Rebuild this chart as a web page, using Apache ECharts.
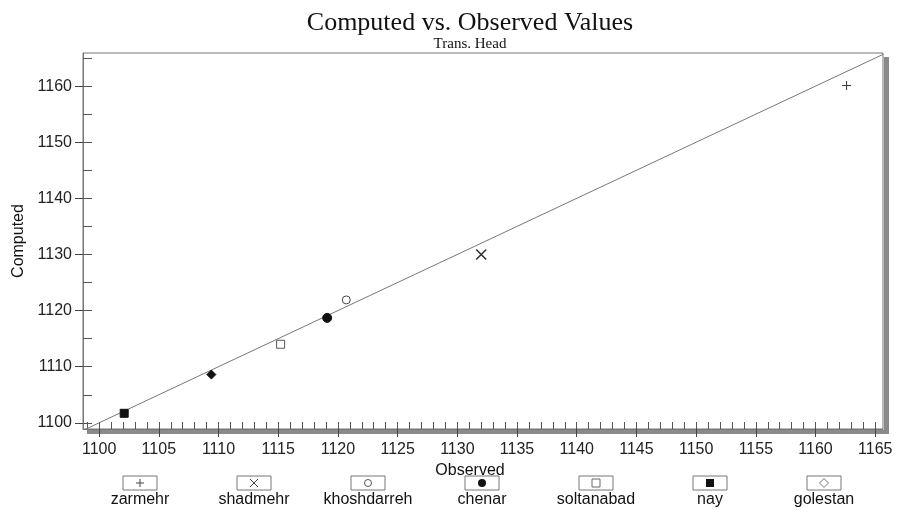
<!DOCTYPE html>
<html>
<head>
<meta charset="utf-8">
<script src="https://cdn.jsdelivr.net/npm/echarts@6/dist/echarts.min.js"></script>
<style>html,body{margin:0;padding:0;background:#fff;}#c{width:898px;height:510px;}</style>
</head>
<body>
<div id="c"></div>
<script>
// ---- data ----
var wellNames = ['zarmehr', 'shadmehr', 'khoshdarreh', 'chenar', 'soltanabad', 'nay', 'golestan'];
var observed = [1162.6, 1132.0, 1120.7, 1119.1, 1115.2, 1102.1, 1109.4];
var computed = [1160.1, 1130.0, 1121.9, 1118.7, 1114.0, 1101.7, 1108.6];
var xTickLabels = [1100, 1105, 1110, 1115, 1120, 1125, 1130, 1135, 1140, 1145, 1150, 1155, 1160, 1165];
var yTickLabels = [1100, 1110, 1120, 1130, 1140, 1150, 1160];
var xMinorTicks = [];
for (var v = 1099; v <= 1165; v++) xMinorTicks.push(v);
var yMinorTicks = [1100, 1105, 1110, 1115, 1120, 1125, 1130, 1135, 1140, 1145, 1150, 1155, 1160, 1165];
var xRange = [1098.65, 1165.65];
var yRange = [1098.9, 1165.9];
var oneToOne = [[1098.65, 1098.65], [1165.65, 1165.65]];

// ---- styles ----
var symbols = [
  'path://M5,0L5,10M0,5L10,5',
  'path://M0,0L10,10M10,0L0,10',
  'circle', 'circle', 'rect', 'rect', 'diamond'
];
var sizes = [9, 10, 8, 9, 8, 8, 9];
var fills = ['transparent', 'transparent', '#fff', '#111', '#fff', '#111', '#111'];
var borders = ['#333', '#333', '#444', '#111', '#555', '#111', '#111'];
var bw = [1, 1.6, 1, 1, 1, 1, 1];

var series = [{
  type: 'line', data: oneToOne, symbol: 'none', silent: true,
  lineStyle: {color: '#777', width: 1}, z: 1, xAxisIndex: 0, yAxisIndex: 0
}];
wellNames.forEach(function (n, i) {
  series.push({
    type: 'scatter', name: n, xAxisIndex: 0, yAxisIndex: 0,
    data: [[observed[i], computed[i]]],
    symbol: symbols[i], symbolSize: sizes[i],
    itemStyle: {color: fills[i], borderColor: borders[i], borderWidth: bw[i], opacity: 1},
    z: 3
  });
});

// ---- frame shadow + legend (boxes) ----
var graphics = [
  {type: 'rect', shape: {x: 884, y: 57, width: 5, height: 377}, style: {fill: '#8a8a8a'}},
  {type: 'rect', shape: {x: 87, y: 430, width: 802, height: 4}, style: {fill: '#8a8a8a'}}
];
var legendCx = [140, 254, 368, 482, 596, 710, 824];
var sans = '"Liberation Sans", Arial, sans-serif';
wellNames.forEach(function (n, i) {
  var cx = legendCx[i], cy = 483;
  graphics.push({type: 'rect', shape: {x: cx - 17, y: 476, width: 34, height: 14},
    style: {fill: '#fff', stroke: '#777', lineWidth: 1}});
  var s = {stroke: '#444', lineWidth: 1, fill: 'none'};
  if (i === 0) {
    graphics.push({type: 'polyline', shape: {points: [[cx, cy - 4], [cx, cy + 4]]}, style: s});
    graphics.push({type: 'polyline', shape: {points: [[cx - 4, cy], [cx + 4, cy]]}, style: s});
  } else if (i === 1) {
    graphics.push({type: 'polyline', shape: {points: [[cx - 4, cy - 4], [cx + 4, cy + 4]]}, style: s});
    graphics.push({type: 'polyline', shape: {points: [[cx + 4, cy - 4], [cx - 4, cy + 4]]}, style: s});
  } else if (i === 2) {
    graphics.push({type: 'circle', shape: {cx: cx, cy: cy, r: 3.5}, style: {stroke: '#555', fill: '#fff', lineWidth: 1}});
  } else if (i === 3) {
    graphics.push({type: 'circle', shape: {cx: cx, cy: cy, r: 4}, style: {fill: '#111'}});
  } else if (i === 4) {
    graphics.push({type: 'rect', shape: {x: cx - 4, y: cy - 4, width: 8, height: 8}, style: {stroke: '#666', fill: '#fff', lineWidth: 1}});
  } else if (i === 5) {
    graphics.push({type: 'rect', shape: {x: cx - 4, y: cy - 4, width: 8, height: 8}, style: {fill: '#111'}});
  } else {
    graphics.push({type: 'polygon', shape: {points: [[cx, cy - 4.5], [cx + 4.5, cy], [cx, cy + 4.5], [cx - 4.5, cy]]}, style: {stroke: '#777', fill: '#fff', lineWidth: 1}});
  }
  graphics.push({type: 'text', x: cx, y: 500, style: {text: n, font: '16px ' + sans,
    fill: '#111', align: 'center', verticalAlign: 'middle'}});
});

var plain = function (v) { return String(Math.round(v)); };
var labelStyle = {color: '#222', fontSize: 16, fontFamily: sans, formatter: plain};

var chart = echarts.init(document.getElementById('c'), null, {renderer: 'canvas'});
chart.setOption({
  animation: false,
  backgroundColor: '#fff',
  title: {
    text: 'Computed vs. Observed Values', subtext: 'Trans. Head',
    left: 465, top: 5, textAlign: 'center', itemGap: 1,
    textStyle: {fontFamily: '"Liberation Serif", "Times New Roman", serif', fontWeight: 'normal', fontSize: 26, color: '#111'},
    subtextStyle: {fontFamily: '"Liberation Serif", "Times New Roman", serif', fontSize: 15, color: '#111'}
  },
  grid: {
    left: 83, right: 15, top: 53, bottom: 81, show: true,
    backgroundColor: '#fff', borderColor: '#777', borderWidth: 1
  },
  xAxis: [{
    type: 'value', min: xRange[0], max: xRange[1], position: 'bottom',
    name: 'Observed', nameLocation: 'middle', nameGap: 26,
    nameTextStyle: {color: '#111', fontSize: 16, fontFamily: sans, padding: [0, 26, 0, 0]},
    axisLine: {show: true, lineStyle: {color: '#777', width: 1}},
    axisTick: {show: true, inside: false, length: 8, customValues: xTickLabels, lineStyle: {color: '#444'}},
    axisLabel: Object.assign({customValues: xTickLabels, margin: 13}, labelStyle),
    splitLine: {show: false}
  }, {
    type: 'value', min: xRange[0], max: xRange[1], position: 'bottom', gridIndex: 0,
    axisLine: {show: false},
    axisTick: {show: true, inside: true, length: 7, customValues: xMinorTicks, lineStyle: {color: '#555'}},
    axisLabel: {show: false}, splitLine: {show: false}
  }],
  yAxis: [{
    type: 'value', min: yRange[0], max: yRange[1], position: 'left',
    name: 'Computed', nameLocation: 'middle', nameGap: 56,
    nameTextStyle: {color: '#111', fontSize: 16, fontFamily: sans},
    axisLine: {show: true, lineStyle: {color: '#777', width: 1}},
    axisTick: {show: true, inside: false, length: 8, customValues: yTickLabels, lineStyle: {color: '#444'}},
    axisLabel: Object.assign({customValues: yTickLabels, margin: 11}, labelStyle),
    splitLine: {show: false}
  }, {
    type: 'value', min: yRange[0], max: yRange[1], position: 'left', gridIndex: 0,
    axisLine: {show: false},
    axisTick: {show: true, inside: true, length: 9, customValues: yMinorTicks, lineStyle: {color: '#555'}},
    axisLabel: {show: false}, splitLine: {show: false}
  }],
  series: series,
  graphic: graphics
});
</script>
</body>
</html>
